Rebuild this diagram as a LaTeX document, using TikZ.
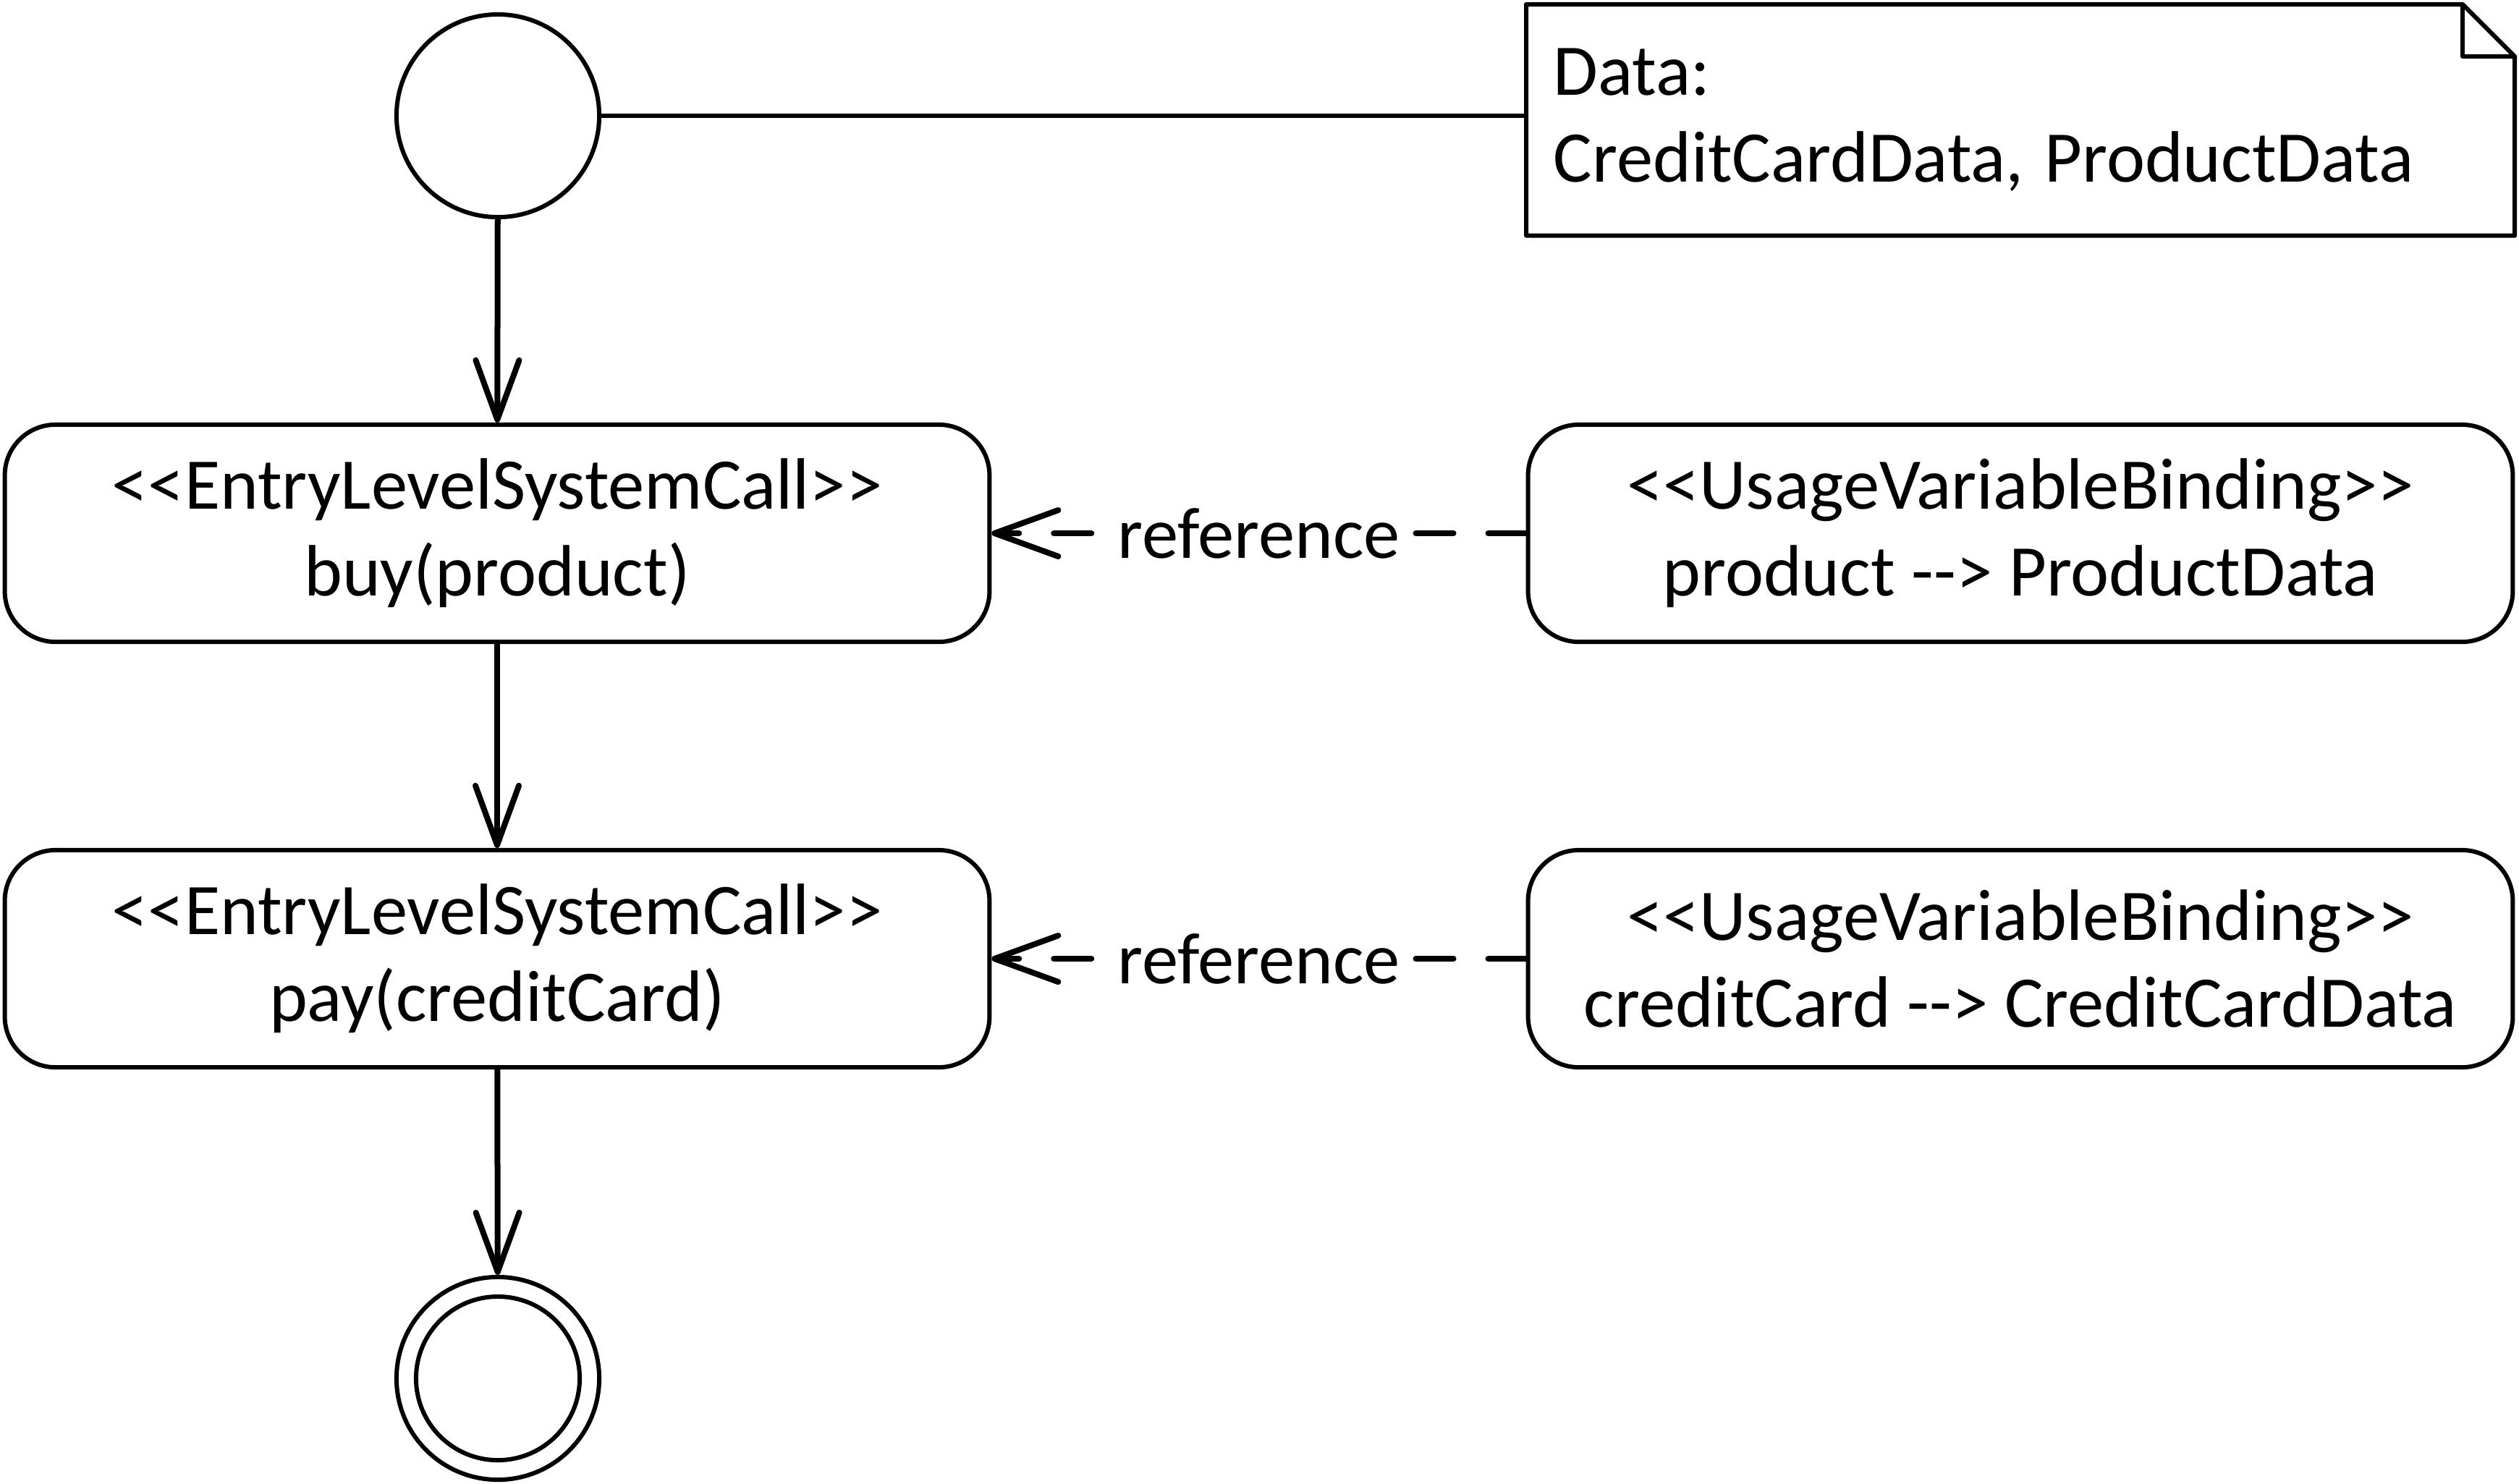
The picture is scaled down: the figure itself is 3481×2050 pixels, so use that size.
\documentclass[tikz,border=0pt]{standalone}
\usepackage{fontspec}
\setmainfont{Carlito}
\usetikzlibrary{arrows.meta}
\newcommand\stL{<\kern0pt<}
\newcommand\stR{>\kern0pt>}
\newcommand\darr{-\kern0pt-\kern0pt>}
\begin{document}
\frenchspacing
\begin{tikzpicture}[x=0.01cm,y=-0.01cm,
  every node/.style={font=\fontsize{28.6pt}{34.2pt}\selectfont},
  act/.style={draw, line width=0.06cm, rounded corners=0.7cm, minimum width=13.6cm, minimum height=3.0cm, align=center, inner sep=0pt},
  flow/.style={line width=0.08cm, -{Straight Barb[length=0.82cm,width=0.6cm,round]}},
  refl/.style={line width=0.08cm, line cap=round, dash pattern=on 0.52cm off 0.48cm, -{Straight Barb[length=0.88cm,width=0.64cm,round]}},
  lbl/.style={fill=white, inner xsep=0.15cm, inner ysep=0.1cm},
  state/.style={draw, circle, line width=0.06cm, inner sep=0pt}]
\useasboundingbox (0,0) rectangle (3481,2050);
% start
\node[state, minimum size=2.8cm] (start) at (688,160) {};
% note
\node[anchor=north west, minimum width=13.64cm, minimum height=3.18cm, text width=12.9cm, align=left, inner xsep=0.37cm, inner ysep=0pt] (note) at (2109,6) {\frenchspacing Data:\\CreditCardData,\kern-0.05cm{} ProductData};
\draw[line width=0.06cm, line join=round] (note.north west) -- ([xshift=-0.72cm]note.north east) -- ([yshift=-0.72cm]note.north east) -- (note.south east) -- (note.south west) -- cycle;
\draw[line width=0.06cm, line join=round] ([xshift=-0.72cm]note.north east) -- ([xshift=-0.72cm,yshift=-0.72cm]note.north east) -- ([yshift=-0.72cm]note.north east);
\draw[line width=0.06cm] (start.east) -- (start.east -| note.west);
% actions
\node[act] (b1) at (687,737) {\stL EntryLevelSystemCall\stR\\buy(product)};
\node[act] (b2) at (687,1325) {\stL EntryLevelSystemCall\stR\\pay(creditCard)};
\node[act] (r1) at (2792,737) {\stL UsageVariableBinding\stR\\product \darr{} ProductData};
\node[act] (r2) at (2792,1325) {\stL UsageVariableBinding\stR\\creditCard \darr{} CreditCardData};
% end
\node[state, minimum size=2.8cm] (end) at (688,1905) {};
\node[state, minimum size=2.26cm] (endin) at (688,1905) {};
% flows
\draw[flow] (start) -- (b1);
\draw[flow] (b1) -- (b2);
\draw[flow] (b2) -- (end);
% references
\draw[refl] (r1.west) -- node[lbl] (l1) {reference} (b1.east);
\draw[refl] (r2.west) -- node[lbl] (l2) {reference} (b2.east);
\end{tikzpicture}
\end{document}
